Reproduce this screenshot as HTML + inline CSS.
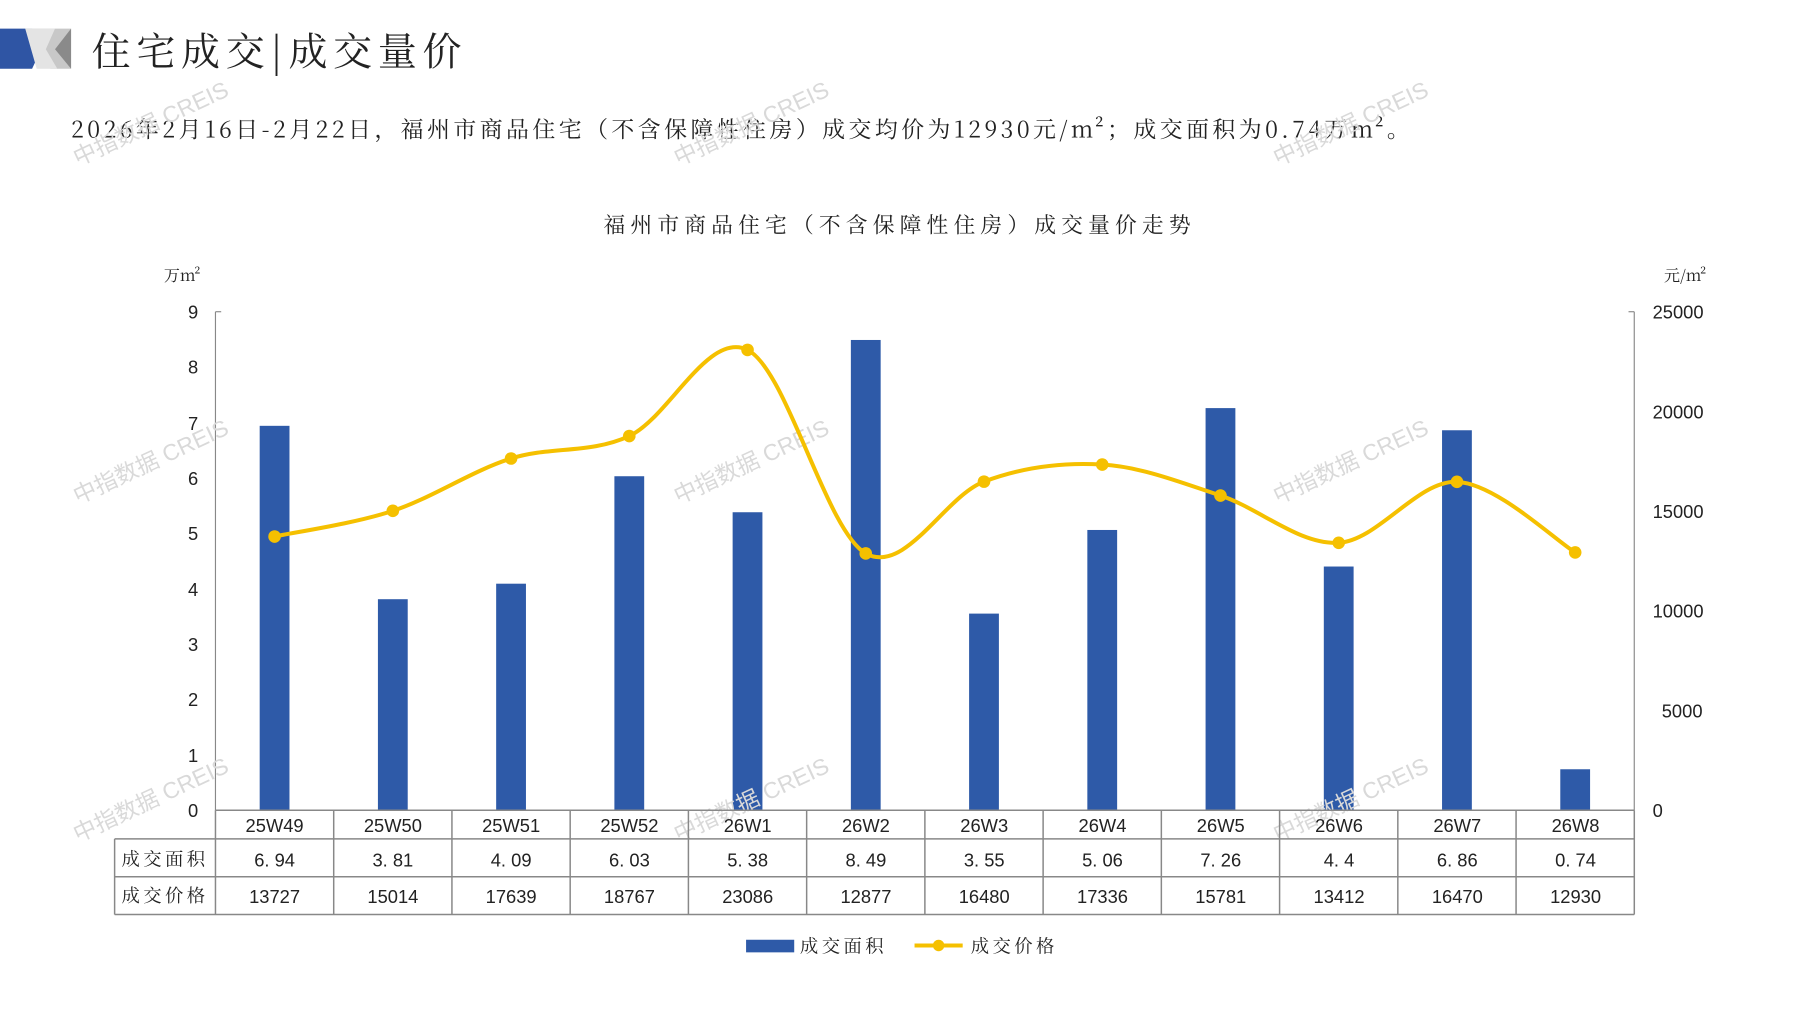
<!DOCTYPE html>
<html><head><meta charset="utf-8"><style>
html,body{margin:0;padding:0;background:#fff;}
svg{display:block;}
text{font-family:"Liberation Sans","Noto Serif CJK SC",serif;fill:#222;}
.cj{font-family:"Noto Serif CJK SC","Noto Sans CJK SC",serif;}
.wm{fill:#d9d9d9;font-size:20px;font-family:"Liberation Sans","Noto Sans CJK SC",sans-serif;}
</style></head><body>
<svg id="s" width="1797" height="1010" viewBox="0 0 1568 881.3" xmlns="http://www.w3.org/2000/svg">
<polygon points="0,25 28,25 36,43 28,60 0,60" fill="#2f55a4"/>
<polygon points="22,25 62,25 62,60 44,60" fill="#c8c8c8"/>
<polygon points="22,25 48,25 40,43 50,60 32,60" fill="#e4e4e4"/>
<polygon points="48,43 62,25 62,60" fill="#8a8a8a"/>
<text x="80" y="57" class="cj" font-size="34" letter-spacing="5" fill="#111">住宅成交|成交量价</text>
<text x="62" y="120" class="cj" font-size="20" letter-spacing="3" fill="#222">2026年2月16日-2月22日，福州市商品住宅（不含保障性住房）成交均价为12930元/m²；成交面积为0.74万m²。</text>
<text x="785" y="203" class="cj" font-size="19" letter-spacing="4.5" text-anchor="middle" fill="#333">福州市商品住宅（不含保障性住房）成交量价走势</text>
<text x="143" y="245" class="cj" font-size="14">万m²</text>
<text x="1452" y="245" class="cj" font-size="14">元/m²</text>
<g stroke="#888" stroke-width="1" fill="none">
<line x1="188" y1="272" x2="188" y2="707"/>
<line x1="1426" y1="272" x2="1426" y2="707"/>
<line x1="188" y1="272" x2="193" y2="272"/>
<line x1="1421" y1="272" x2="1426" y2="272"/>
</g>
<g font-size="16" text-anchor="end">
<text x="173" y="278">9</text><text x="173" y="326">8</text><text x="173" y="375">7</text><text x="173" y="423">6</text><text x="173" y="471">5</text><text x="173" y="520">4</text><text x="173" y="568">3</text><text x="173" y="616">2</text><text x="173" y="665">1</text><text x="173" y="713">0</text>
</g>
<g font-size="16">
<text x="1442" y="278">25000</text><text x="1442" y="365">20000</text><text x="1442" y="452">15000</text><text x="1442" y="539">10000</text><text x="1450" y="626">5000</text><text x="1442" y="713">0</text>
</g>
<g id="bars" fill="#2e5aa8"></g>
<g id="wm"></g>
<path id="line" fill="none" stroke="#f5c000" stroke-width="3.5"/>
<g id="dots" fill="#f5c000"></g>
<g id="tbl" stroke="#888" stroke-width="1.3" fill="none"></g>
<g font-size="16" text-anchor="middle">
<text x="239.6" y="726">25W49</text><text x="342.8" y="726">25W50</text><text x="446" y="726">25W51</text><text x="549.2" y="726">25W52</text><text x="652.4" y="726">26W1</text><text x="755.6" y="726">26W2</text><text x="858.8" y="726">26W3</text><text x="962" y="726">26W4</text><text x="1065.2" y="726">26W5</text><text x="1168.4" y="726">26W6</text><text x="1271.6" y="726">26W7</text><text x="1374.8" y="726">26W8</text>
<text x="239.6" y="756">6. 94</text><text x="342.8" y="756">3. 81</text><text x="446" y="756">4. 09</text><text x="549.2" y="756">6. 03</text><text x="652.4" y="756">5. 38</text><text x="755.6" y="756">8. 49</text><text x="858.8" y="756">3. 55</text><text x="962" y="756">5. 06</text><text x="1065.2" y="756">7. 26</text><text x="1168.4" y="756">4. 4</text><text x="1271.6" y="756">6. 86</text><text x="1374.8" y="756">0. 74</text>
<text x="239.6" y="788">13727</text><text x="342.8" y="788">15014</text><text x="446" y="788">17639</text><text x="549.2" y="788">18767</text><text x="652.4" y="788">23086</text><text x="755.6" y="788">12877</text><text x="858.8" y="788">16480</text><text x="962" y="788">17336</text><text x="1065.2" y="788">15781</text><text x="1168.4" y="788">13412</text><text x="1271.6" y="788">16470</text><text x="1374.8" y="788">12930</text>
</g>
<text x="106" y="755" class="cj" font-size="16" letter-spacing="3">成交面积</text>
<text x="106" y="787" class="cj" font-size="16" letter-spacing="3">成交价格</text>
<rect x="651" y="820" width="42" height="11" fill="#2e5aa8"/>
<text x="698" y="831" class="cj" font-size="16" letter-spacing="3">成交面积</text>
<line x1="798" y1="825" x2="840" y2="825" stroke="#f5c000" stroke-width="3.5"/>
<circle cx="819" cy="825" r="5" fill="#f5c000"/>
<text x="847" y="831" class="cj" font-size="16" letter-spacing="3">成交价格</text>
</svg>
<script>
var ns="http://www.w3.org/2000/svg";
var area=[6.94,3.81,4.09,6.03,5.38,8.49,3.55,5.06,7.26,4.4,6.86,0.74];
var price=[13727,15014,17639,18767,23086,12877,16480,17336,15781,13412,16470,12930];
var x0=188,w=103.17,base=707;
function el(t,a,p){var e=document.createElementNS(ns,t);for(var k in a)e.setAttribute(k,a[k]);p.appendChild(e);return e;}
var bars=document.getElementById('bars'),dots=document.getElementById('dots');
var pts=[];
for(var i=0;i<12;i++){var cx=x0+w*(i+0.5);var h=area[i]*435/9;
el('rect',{x:cx-13,y:base-h,width:26,height:h},bars);
var py=base-price[i]/25000*435;pts.push([cx,py]);el('circle',{cx:cx,cy:py,r:5.5},dots);}
var d="M"+pts[0][0]+","+pts[0][1];
for(var i=0;i<11;i++){var p0=pts[Math.max(0,i-1)],p1=pts[i],p2=pts[i+1],p3=pts[Math.min(11,i+2)];
var t=1/6;d+=" C"+(p1[0]+(p2[0]-p0[0])*t)+","+(p1[1]+(p2[1]-p0[1])*t)+" "+(p2[0]-(p3[0]-p1[0])*t)+","+(p2[1]-(p3[1]-p1[1])*t)+" "+p2[0]+","+p2[1];}
document.getElementById('line').setAttribute('d',d);
var tb=document.getElementById('tbl');
el('line',{x1:188,y1:707,x2:1426,y2:707},tb);
el('line',{x1:100,y1:732,x2:1426,y2:732},tb);
el('line',{x1:100,y1:765,x2:1426,y2:765},tb);
el('line',{x1:100,y1:798,x2:1426,y2:798},tb);
el('line',{x1:100,y1:732,x2:100,y2:798},tb);
for(var i=0;i<=12;i++){var x=x0+w*i;el('line',{x1:x,y1:707,x2:x,y2:798},tb);}
var wm=document.getElementById('wm');
[[68,145],[592,145],[1115,145],[68,440],[592,440],[1115,440],[68,735],[592,735],[1115,735]].forEach(function(p){
var t=el('text',{x:p[0],y:p[1],'class':'wm',transform:'rotate(-25 '+p[0]+' '+p[1]+')'},wm);t.textContent='中指数据 CREIS';});
</script>
</body></html>
